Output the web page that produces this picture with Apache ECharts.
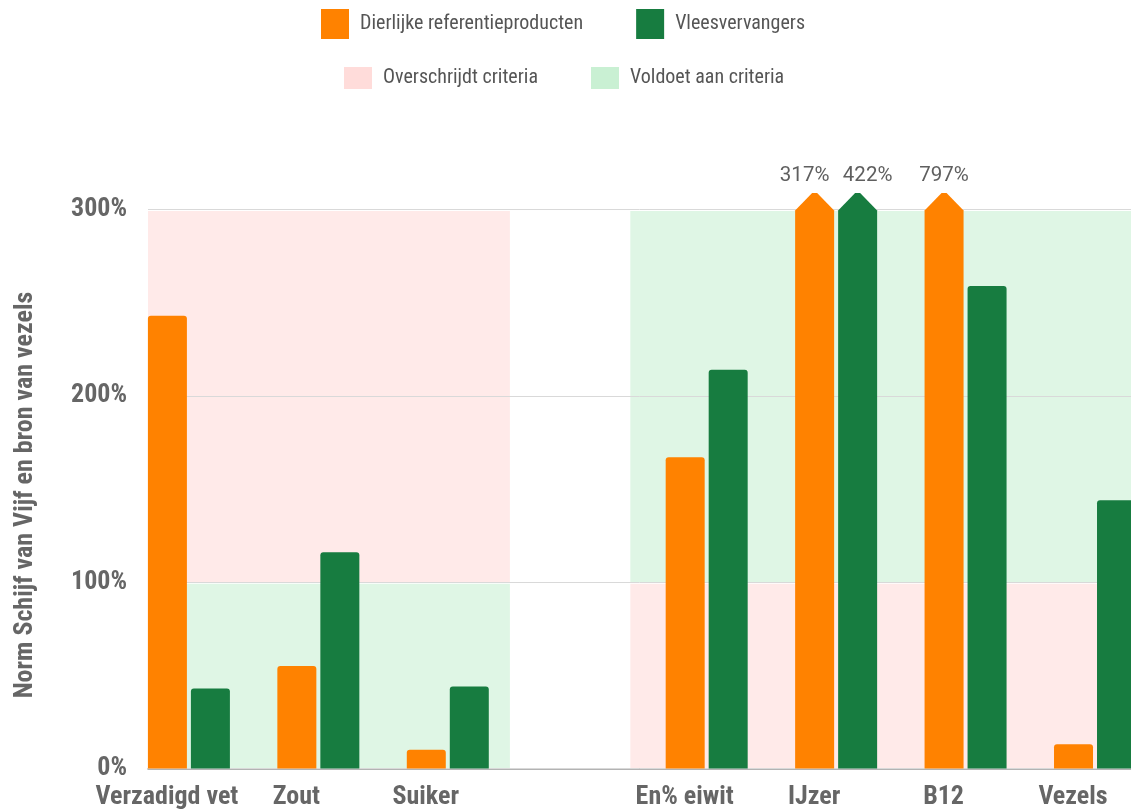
<!DOCTYPE html>
<html lang="nl">
<head>
<meta charset="utf-8">
<title>Schijf van Vijf – vleesvervangers vs. dierlijke referentieproducten</title>
<script src="https://cdn.jsdelivr.net/npm/echarts@6/dist/echarts.min.js"></script>
<style>
  html, body { margin: 0; padding: 0; background: #fff; }
  #chart { width: 1131px; height: 809px; }
</style>
</head>
<body>
<div id="chart"></div>
<script>
// Nutrients on the x axis; the empty slot separates "limit" nutrients from "source" nutrients.
const categories = ['Verzadigd vet', 'Zout', 'Suiker', '', 'En% eiwit', 'IJzer', 'B12', 'Vezels'];

// Percentage of the Schijf van Vijf norm (or of the fibre-source threshold).
const dierlijk = [243, 55, 10, null, 167, 317, 797, 13];
const vleesvervangers = [43, 116, 44, null, 214, 422, 259, 144];

// Y axis tick values (percent).
const yTicks = [0, 100, 200, 300];

// Criteria zones along the category axis: for limit nutrients going above 100% breaks the
// criterion, for source nutrients staying below 100% does.
const criteriaZones = [
  { from: -0.5, to: 2.48, failsAbove: true },
  { from: 3.41, to: 7.5, failsAbove: false }
];

const seriesNames = ['Dierlijke referentieproducten', 'Vleesvervangers'];
const zoneNames = ['Overschrijdt criteria', 'Voldoet aan criteria'];

const ORANGE = '#ff8200';
const GREEN = '#177c40';
const PINK = '#ffdcda';
const MINT = '#c9f0d3';
const COND = "'Roboto Condensed', 'Liberation Sans Narrow', 'DejaVu Sans Condensed', 'Arial Narrow', Roboto, sans-serif";
const PLAIN = "Roboto, 'Open Sans', sans-serif";

const Y_MAX = yTicks[yTicks.length - 1];
const BAR_W = 39;
const BAR_OFFSET = 21.5;
const ARROW_H = 16.5;
const ARROW_RUN = 17;

const chart = echarts.init(document.getElementById('chart'), null, { renderer: 'canvas' });

function barSeries(name, values, partner, side, color) {
  return {
    name: name,
    type: 'custom',
    z: 5,
    clip: false,
    itemStyle: { color: color },
    encode: { x: 0, y: 1 },
    data: values.map((v, i) => [i, v]).filter(d => d[1] != null),
    renderItem: function (params, api) {
      const idx = api.value(0);
      const v = api.value(1);
      const base = api.coord([idx, 0]);
      const cx = base[0] + side * BAR_OFFSET;
      const x0 = cx - BAR_W / 2;
      const top = api.coord([idx, Math.min(v, Y_MAX)])[1];
      if (v <= Y_MAX) {
        return {
          type: 'rect',
          shape: { x: x0, y: top, width: BAR_W, height: base[1] - top, r: [3, 3, 0, 0] },
          style: { fill: color }
        };
      }
      // Values beyond the axis are drawn up to the top with an arrow head and their value.
      const peak = top - ARROW_H;
      const pts = [
        [x0, base[1]], [x0, top + 1], [x0 + ARROW_RUN, peak],
        [x0 + BAR_W - ARROW_RUN, peak], [x0 + BAR_W, top + 1], [x0 + BAR_W, base[1]]
      ];
      const other = partner[idx];
      const shift = (other != null && other > Y_MAX) ? side * 10 : 0;
      return {
        type: 'group',
        children: [
          { type: 'polygon', shape: { points: pts }, style: { fill: color } },
          {
            type: 'text',
            x: cx + shift,
            y: peak - 7,
            style: {
              text: v + '%',
              fill: '#5f5f5f',
              fontFamily: PLAIN,
              fontSize: 20.5,
              align: 'center',
              verticalAlign: 'bottom'
            }
          }
        ]
      };
    }
  };
}

function zoneSeries(name, color, failing) {
  return {
    name: name,
    type: 'custom',
    z: 1,
    clip: true,
    silent: true,
    itemStyle: { color: color },
    encode: { x: [0, 1] },
    data: criteriaZones.map(z => [z.from, z.to, z.failsAbove ? 1 : 0]),
    renderItem: function (params, api) {
      const failsAbove = api.value(2) === 1;
      const upper = failing === failsAbove;
      const lo = upper ? 100 : 0;
      const hi = upper ? Y_MAX : 100;
      const p0 = api.coord([api.value(0), hi]);
      const p1 = api.coord([api.value(1), lo]);
      return {
        type: 'rect',
        shape: { x: p0[0], y: p0[1] + 1.5, width: p1[0] - p0[0], height: p1[1] - p0[1] - 1.5 },
        style: { fill: color, opacity: 0.6 }
      };
    }
  };
}

const option = {
  backgroundColor: '#ffffff',
  animation: false,
  legend: [
    {
      data: seriesNames,
      left: 321,
      top: 9,
      padding: 0,
      itemWidth: 28,
      itemHeight: 30,
      itemGap: 53,
      icon: 'rect',
      selectedMode: false,
      textStyle: { fontFamily: COND, fontSize: 20, color: '#555', padding: [0, 0, 0, 6] }
    },
    {
      data: zoneNames,
      left: 344,
      top: 67,
      padding: 0,
      itemWidth: 28,
      itemHeight: 22,
      itemGap: 53,
      icon: 'rect',
      selectedMode: false,
      textStyle: { fontFamily: COND, fontSize: 20, color: '#555', padding: [0, 0, 0, 6] }
    }
  ],
  grid: { left: 148, right: 0, top: 209.5, bottom: 40.5, containLabel: false, outerBoundsMode: 'none' },
  xAxis: {
    type: 'value',
    min: -0.316,
    max: 7.278,
    axisLine: { show: true, onZero: false, lineStyle: { color: '#9a9a9a', width: 1.5 } },
    axisTick: { show: false },
    splitLine: { show: false },
    axisLabel: {
      customValues: categories.map((c, i) => i).filter(i => categories[i] !== ''),
      formatter: v => categories[Math.round(v)] || '',
      fontFamily: COND,
      fontWeight: 'bold',
      fontSize: 26,
      color: '#666',
      margin: 16,
      padding: [0, 44, 0, 0]
    }
  },
  yAxis: {
    type: 'value',
    min: yTicks[0],
    max: Y_MAX,
    interval: 100,
    z: 3,
    name: 'Norm Schijf van Vijf en bron van vezels',
    nameLocation: 'middle',
    nameGap: 110,
    nameTextStyle: { fontFamily: COND, fontWeight: 'bold', fontSize: 26, color: '#666', padding: [0, 12, 0, 0] },
    axisLine: { show: false },
    axisTick: { show: false },
    splitLine: { show: true, lineStyle: { color: '#d9d9d9', width: 1 } },
    axisLabel: {
      formatter: '{value}%',
      fontFamily: COND,
      fontWeight: 'bold',
      fontSize: 26,
      color: '#666',
      margin: 21
    }
  },
  series: [
    zoneSeries(zoneNames[0], PINK, true),
    zoneSeries(zoneNames[1], MINT, false),
    barSeries(seriesNames[0], dierlijk, vleesvervangers, -1, ORANGE),
    barSeries(seriesNames[1], vleesvervangers, dierlijk, 1, GREEN)
  ]
};

chart.setOption(option);
</script>
</body>
</html>
